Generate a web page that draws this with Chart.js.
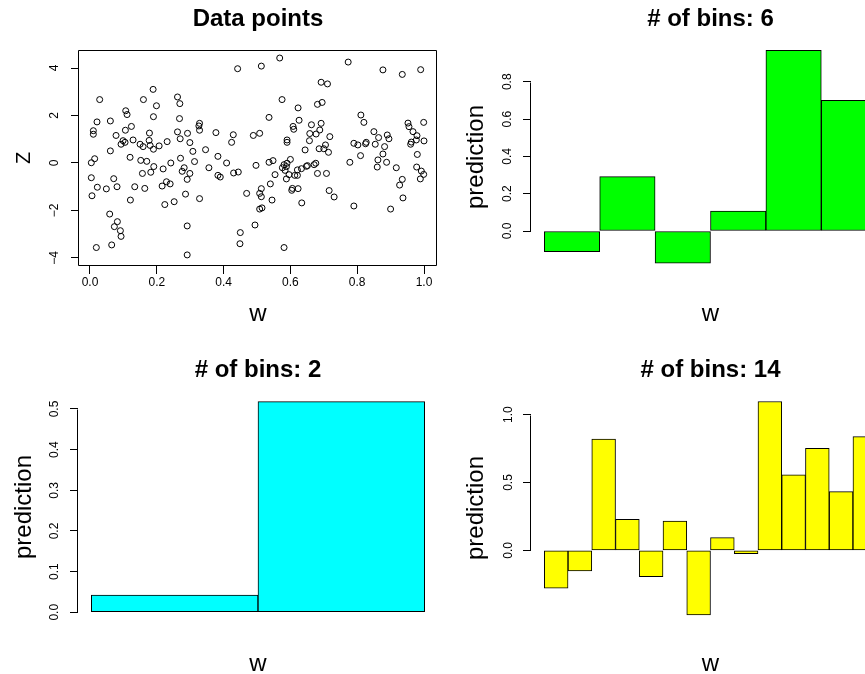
<!DOCTYPE html>
<html>
<head>
<meta charset="utf-8">
<script src="https://cdn.jsdelivr.net/npm/chart.js@4.4.1/dist/chart.umd.min.js"></script>
<style>
  html, body { margin: 0; padding: 0; background: #fff; overflow: hidden; }
  #wrap { position: relative; width: 865px; height: 674px; overflow: hidden; background: #fff; }
  canvas { position: absolute; }
</style>
</head>
<body>
<div id="wrap">
  <canvas id="c1" width="452" height="337" style="left:0;top:0"></canvas>
  <canvas id="c2" width="452" height="337" style="left:452px;top:0"></canvas>
  <canvas id="c3" width="452" height="350" style="left:0;top:337px"></canvas>
  <canvas id="c4" width="452" height="350" style="left:452px;top:337px"></canvas>
</div>
<script>
// data points (w, z)
const scatterW = [0.004,0.006,0.004,0.01,0.01,0.014,0.019,0.021,0.022,0.029,
  0.049,0.061,0.061,0.059,0.065,0.071,0.073,0.078,0.081,0.082,
  0.091,0.093,0.093,0.099,0.105,0.106,0.107,0.111,0.12,0.121,
  0.124,0.129,0.134,0.15,0.152,0.157,0.159,0.16,0.164,0.17,
  0.178,0.177,0.18,0.182,0.189,0.19,0.19,0.191,0.199,0.207,
  0.216,0.219,0.224,0.229,0.231,0.24,0.242,0.252,0.262,0.262,
  0.268,0.269,0.27,0.271,0.276,0.282,0.286,0.291,0.291,0.291,
  0.292,0.299,0.299,0.308,0.313,0.326,0.328,0.328,0.328,0.346,
  0.356,0.377,0.383,0.383,0.39,0.409,0.424,0.429,0.43,0.442,
  0.444,0.45,0.449,0.469,0.489,0.494,0.497,0.508,0.508,0.508,
  0.513,0.513,0.513,0.515,0.536,0.536,0.54,0.545,0.548,0.554,
  0.568,0.575,0.576,0.581,0.581,0.584,0.588,0.588,0.59,0.59,
  0.59,0.596,0.6,0.604,0.606,0.608,0.61,0.613,0.621,0.621,
  0.623,0.623,0.626,0.633,0.634,0.644,0.648,0.651,0.657,0.658,
  0.663,0.671,0.676,0.677,0.681,0.681,0.686,0.688,0.692,0.692,
  0.695,0.7,0.705,0.708,0.711,0.714,0.716,0.718,0.731,0.773,
  0.778,0.79,0.79,0.802,0.81,0.811,0.82,0.825,0.827,0.85,
  0.854,0.86,0.862,0.864,0.877,0.877,0.882,0.888,0.89,0.895,
  0.9,0.917,0.927,0.935,0.935,0.937,0.952,0.955,0.96,0.962,
  0.967,0.977,0.98,0.978,0.979,0.989,0.99,0.992,0.999,1.0,
  0.999];
const scatterZ = [-0.62,-1.38,0.01,1.36,1.21,0.18,-3.56,1.73,-1.02,2.67,
  -1.09,1.77,0.51,-2.15,-3.45,-0.66,-2.68,1.16,-1.0,-2.47,
  -2.85,-3.09,0.79,0.94,0.87,1.38,2.2,2.04,0.24,-1.56,
  1.54,0.97,-1.0,0.79,0.11,-0.44,0.69,2.67,-1.07,0.07,
  1.26,0.95,0.74,-0.39,3.1,1.95,0.58,-0.15,2.41,0.72,
  -0.97,-0.25,-1.75,-0.79,0.9,-0.88,0.0,-1.63,2.78,1.31,
  1.87,2.5,1.02,0.2,-0.35,-0.2,-1.31,-0.69,-2.65,-3.87,
  1.25,-0.44,0.86,0.49,0.06,1.56,1.67,1.38,-1.5,0.56,
  -0.2,1.28,0.28,-0.52,-0.59,0.0,0.87,1.19,-0.42,3.97,
  -0.38,-2.93,-3.4,-1.28,1.16,-2.61,-0.1,-1.28,1.25,-1.94,
  4.08,-1.08,-1.42,-1.89,1.92,0.03,-0.88,-1.56,0.1,-0.49,
  4.42,2.67,-0.2,-3.56,-0.07,-0.31,-0.15,-0.67,0.97,0.87,
  -0.01,-0.49,0.15,-1.15,-1.07,1.54,1.42,-0.52,-0.29,-0.52,
  2.32,-1.08,1.8,-0.24,-1.68,0.55,-0.14,-0.11,0.94,1.24,
  1.61,-0.07,-0.01,1.22,2.47,-0.44,0.6,1.39,3.4,1.67,
  2.55,0.6,0.76,-0.44,3.33,0.45,-1.16,1.11,-1.43,4.25,
  0.03,-1.81,0.83,0.76,0.31,2.02,1.71,0.81,0.87,1.32,
  0.79,-0.17,0.13,1.07,3.92,0.38,0.69,0.03,1.18,1.02,
  -1.94,-0.2,-0.93,3.73,-0.69,-1.47,1.68,1.53,0.79,0.88,
  1.32,0.97,0.36,-0.17,1.15,-0.67,3.93,-0.34,-0.48,0.93,
  1.71];

// predictions per bin
const bins6 = [-0.111, 0.291, -0.173, 0.107, 0.968, 0.700];
const bins2 = [0.0425, 0.518];
const bins14 = [-0.280, -0.152, 0.821, 0.229, -0.194, 0.216, -0.477, 0.093, -0.025, 1.097, 0.556, 0.752, 0.433, 0.838];

// ticks
const wTicks = [0, 0.2, 0.4, 0.6, 0.8, 1.0];
const wTickLabels = ["0.0", "0.2", "0.4", "0.6", "0.8", "1.0"];
const zTicks = [-4, -2, 0, 2, 4];
const zTickLabels = ["\u22124", "\u22122", "0", "2", "4"];
const pred6Ticks = [0, 0.2, 0.4, 0.6, 0.8];
const pred6Labels = ["0.0", "0.2", "0.4", "0.6", "0.8"];
const pred2Ticks = [0, 0.1, 0.2, 0.3, 0.4, 0.5];
const pred2Labels = ["0.0", "0.1", "0.2", "0.3", "0.4", "0.5"];
const pred14Ticks = [0, 0.5, 1.0];
const pred14Labels = ["0.0", "0.5", "1.0"];

Chart.defaults.font.family = "'Liberation Sans', Arial, Helvetica, sans-serif";
Chart.defaults.color = "#000";

// R style axis: line only between first and last tick, optional box
const rAxis = {
  id: "rAxis",
  afterDraw(chart, args, opts) {
    const { ctx, chartArea: a } = chart;
    const y = chart.scales.y;
    const t = y.ticks;
    ctx.save();
    ctx.strokeStyle = "#000";
    ctx.lineWidth = 1;
    ctx.beginPath();
    if (opts.box) {
      const L = Math.round(a.left) - 0.5, R = Math.round(a.right) - 0.5;
      const T = Math.round(a.top) + 0.5, B = Math.round(a.bottom) - 0.5;
      ctx.rect(L, T, R - L, B - T);
    } else {
      const x = Math.round(a.left) - 0.5;
      ctx.moveTo(x, Math.round(y.getPixelForValue(t[0].value)) + 0.5);
      ctx.lineTo(x, Math.round(y.getPixelForValue(t[t.length - 1].value)) + 0.5);
    }
    ctx.stroke();
    ctx.restore();
  }
};

function yAxis(min, max, ticks, labels, pad, width, text, size, titlePad) {
  return {
    type: "linear", position: "left", min: min, max: max,
    afterBuildTicks: s => { s.ticks = ticks.map(v => ({ value: v })); },
    afterFit: s => { s.width = width; },
    ticks: { minRotation: 90, maxRotation: 90, crossAlign: "center", autoSkip: false,
      padding: pad, color: "#000", font: { size: 12 }, callback: (v, i) => labels[i] },
    grid: { drawOnChartArea: false, drawTicks: true, tickLength: 8, color: "#000", lineWidth: 1 },
    border: { display: false },
    title: { display: true, text: text, color: "#000", font: { size: size, lineHeight: 1 },
      padding: { top: titlePad, bottom: 0 } }
  };
}

function titleOpts(text, top, bottom) {
  return { display: true, text: text, fullSize: false, color: "#000",
    font: { size: 24, weight: "bold", lineHeight: 1 }, padding: { top: top, bottom: bottom } };
}

// Data points
new Chart(document.getElementById("c1"), {
  type: "scatter",
  data: {
    datasets: [{
      data: scatterW.map((w, i) => ({ x: w, y: scatterZ[i] })),
      pointStyle: "circle", pointRadius: 3, pointBorderWidth: 1,
      borderColor: "#000", backgroundColor: "rgba(0,0,0,0)"
    }]
  },
  options: {
    responsive: false, animation: false, devicePixelRatio: 1,
    layout: { padding: { right: 15 } },
    plugins: {
      legend: { display: false }, tooltip: { enabled: false },
      title: titleOpts("Data points", 7, 19),
      rAxis: { box: true }
    },
    scales: {
      x: {
        type: "linear", position: "bottom", min: -0.0329, max: 1.0389,
        afterBuildTicks: s => { s.ticks = wTicks.map(v => ({ value: v })); },
        afterFit: s => { s.height = 71; },
        ticks: { maxRotation: 0, autoSkip: false, padding: 1, color: "#000", font: { size: 12 },
          callback: (v, i) => wTickLabels[i] },
        grid: { drawOnChartArea: false, tickLength: 8, color: "#000" },
        border: { display: false },
        title: { display: true, text: "w", color: "#000", font: { size: 24, lineHeight: 1 },
          padding: { top: 0, bottom: 11 } }
      },
      y: yAxis(-4.337, 4.758, zTicks, zTickLabels, 9.2, 79, "Z", 20, 14)
    }
  },
  plugins: [rAxis]
});

function binChart(id, values, color, title, titleTop, titleBottom, xHeight, yWidth, rightPad,
                  yMin, yMax, ticks, labels, tickPad) {
  const n = values.length;
  const centers = values.map((v, i) => i + 0.5);
  return new Chart(document.getElementById(id), {
    type: "bar",
    data: {
      datasets: [{
        data: values.map((v, i) => ({ x: centers[i], y: v })),
        backgroundColor: color, borderColor: "#000", borderWidth: 1, borderSkipped: false,
        barPercentage: 1, categoryPercentage: 1
      }]
    },
    options: {
      responsive: false, animation: false, devicePixelRatio: 1,
      layout: { padding: { right: rightPad } },
      plugins: {
        legend: { display: false }, tooltip: { enabled: false },
        title: titleOpts(title, titleTop, titleBottom)
      },
      scales: {
        x: {
          type: "linear", offset: false, min: -0.04 * n, max: 1.04 * n,
          // hidden ticks at the bar centres so bars fill their whole bin
          afterBuildTicks: s => { s.ticks = centers.map(v => ({ value: v })); },
          afterFit: s => { s.height = xHeight; },
          ticks: { display: false }, grid: { display: false, offset: false }, border: { display: false },
          title: { display: true, text: "w", color: "#000", font: { size: 24, lineHeight: 1 },
            padding: { top: 0, bottom: 11 } }
        },
        y: yAxis(yMin, yMax, ticks, labels, tickPad, yWidth, "prediction", 24, 12)
      }
    },
    plugins: [rAxis]
  });
}

binChart("c2", bins6, "#00ff00", "# of bins: 6", 7, 11, 65, 79, 14,
  -0.2197, 1.0129, pred6Ticks, pred6Labels, 6.7);
binChart("c3", bins2, "#00ffff", "# of bins: 2", 21, 11.3, 66.3, 78, 14,
  -0.0207, 0.5386, pred2Ticks, pred2Labels, 6.7);
binChart("c4", bins14, "#ffff00", "# of bins: 14", 21, 11, 64, 79, 14,
  -0.536, 1.160, pred14Ticks, pred14Labels, 6.4);
</script>
</body>
</html>
